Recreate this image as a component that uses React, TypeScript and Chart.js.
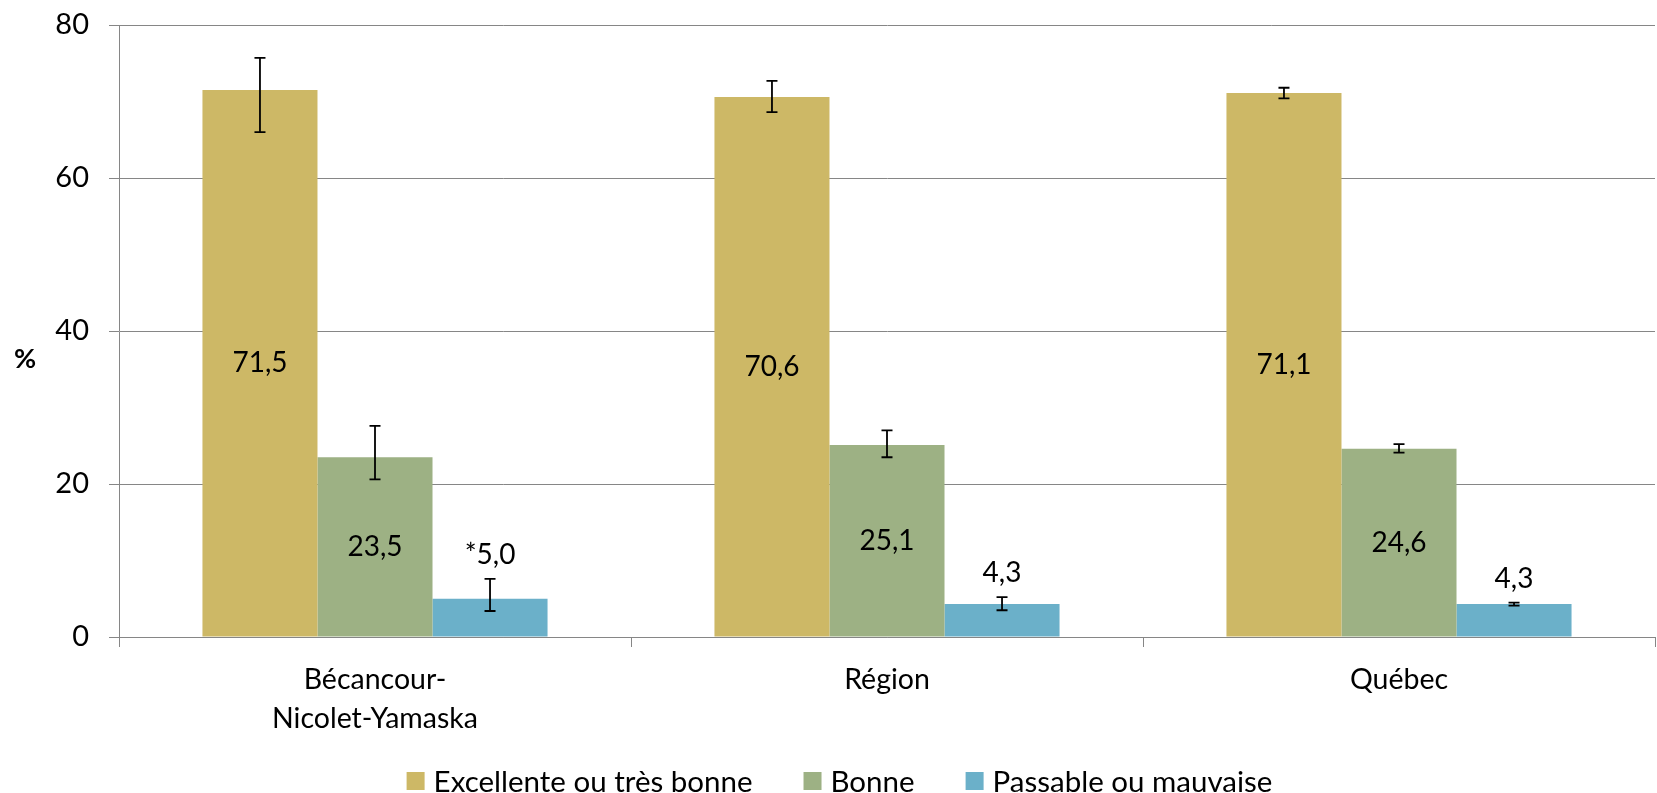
import React, { useEffect, useRef } from "react";
import { Chart, registerables } from "chart.js";

Chart.register(...registerables);

const categories: (string | string[])[] = [["Bécancour-", "Nicolet-Yamaska"], "Région", "Québec"];
const seriesNames = ["Excellente ou très bonne", "Bonne", "Passable ou mauvaise"];
const seriesColors = ["#CDB866", "#9DB184", "#6BB0C9"];

const excellente = [71.5, 70.6, 71.1];
const bonne = [23.5, 25.1, 24.6];
const passable = [5.0, 4.3, 4.3];

const excellenteLow = [66.0, 68.6, 70.4];
const excellenteHigh = [75.7, 72.7, 71.8];
const bonneLow = [20.6, 23.5, 24.1];
const bonneHigh = [27.6, 27.0, 25.2];
const passableLow = [3.4, 3.5, 4.1];
const passableHigh = [7.6, 5.2, 4.5];

const excellenteFlags = ["", "", ""];
const bonneFlags = ["", "", ""];
const passableFlags = ["*", "", ""];

const labelPlacement = ["center", "center", "above"];

const yMin = 0;
const yMax = 80;
const yStep = 20;
const yTitle = "%";

const FONT = "Lato, 'Open Sans', sans-serif";
const GRID = "#868686";

const lows = [excellenteLow, bonneLow, passableLow];
const highs = [excellenteHigh, bonneHigh, passableHigh];
const flags = [excellenteFlags, bonneFlags, passableFlags];

const fmt = (v: number) => v.toFixed(1).replace(".", ",");

const errorBarPlugin = {
  id: "errorBars",
  afterDatasetsDraw(chart: any) {
    const ctx = chart.ctx;
    const y = chart.scales.y;
    ctx.save();
    ctx.strokeStyle = "#000";
    ctx.lineWidth = 1.8;
    chart.data.datasets.forEach((_: any, i: number) => {
      const meta = chart.getDatasetMeta(i);
      meta.data.forEach((el: any, j: number) => {
        const x = el.x;
        const yl = y.getPixelForValue(lows[i][j]);
        const yh = y.getPixelForValue(highs[i][j]);
        const cap = 5.5;
        ctx.beginPath();
        ctx.moveTo(x, yl);
        ctx.lineTo(x, yh);
        ctx.moveTo(x - cap, yl);
        ctx.lineTo(x + cap, yl);
        ctx.moveTo(x - cap, yh);
        ctx.lineTo(x + cap, yh);
        ctx.stroke();
      });
    });
    ctx.restore();
  },
};

const dataLabelPlugin = {
  id: "dataLabels",
  afterDatasetsDraw(chart: any) {
    const ctx = chart.ctx;
    const y = chart.scales.y;
    ctx.save();
    ctx.fillStyle = "#000";
    ctx.font = `28px ${FONT}`;
    ctx.textAlign = "center";
    ctx.textBaseline = "middle";
    chart.data.datasets.forEach((ds: any, i: number) => {
      const meta = chart.getDatasetMeta(i);
      meta.data.forEach((el: any, j: number) => {
        const text = flags[i][j] + fmt(ds.data[j]);
        let ty: number;
        if (labelPlacement[i] === "center") {
          ty = (el.y + el.base) / 2;
        } else {
          ty = y.getPixelForValue(highs[i][j]) - 24;
        }
        ctx.fillText(text, el.x, ty);
      });
    });
    ctx.restore();
  },
};

const legendPlugin = {
  id: "customLegend",
  afterDraw(chart: any) {
    const ctx = chart.ctx;
    ctx.save();
    ctx.font = `29.5px ${FONT}`;
    ctx.textBaseline = "middle";
    ctx.textAlign = "left";
    const box = 18;
    const boxGap = 9;
    const itemGap = 51;
    const widths = chart.data.datasets.map((ds: any) => box + boxGap + ctx.measureText(ds.label).width);
    const total = widths.reduce((a: number, b: number) => a + b, 0) + itemGap * (widths.length - 1);
    let x = chart.width / 2 - total / 2 + 11;
    const cy = chart.height - 12;
    chart.data.datasets.forEach((ds: any, i: number) => {
      ctx.fillStyle = ds.backgroundColor;
      ctx.fillRect(x, cy - box / 2, box, box);
      ctx.fillStyle = "#000";
      ctx.fillText(ds.label, x + box + boxGap, cy + 1);
      x += widths[i] + itemGap;
    });
    ctx.restore();
  },
};

const yTitlePlugin = {
  id: "yTitleText",
  afterDraw(chart: any) {
    const ctx = chart.ctx;
    const a = chart.chartArea;
    ctx.save();
    ctx.font = `bold 27px ${FONT}`;
    ctx.fillStyle = "#000";
    ctx.textAlign = "center";
    ctx.textBaseline = "middle";
    ctx.fillText(yTitle, 25, a.top + (a.bottom - a.top) * 0.546);
    ctx.restore();
  },
};

export default function App() {
  const ref = useRef<HTMLCanvasElement | null>(null);

  useEffect(() => {
    if (!ref.current) return;
    const values = [excellente, bonne, passable];
    const chart = new Chart(ref.current, {
      type: "bar",
      data: {
        labels: categories,
        datasets: seriesNames.map((name, i) => ({
          label: name,
          data: values[i],
          backgroundColor: seriesColors[i],
          borderWidth: 0,
          barPercentage: 1,
          categoryPercentage: 0.674,
        })),
      },
      options: {
        animation: false,
        responsive: true,
        maintainAspectRatio: false,
        layout: { padding: { top: 25, right: 2, bottom: 54, left: 0 } },
        plugins: {
          legend: { display: false },
          tooltip: { enabled: false },
        },
        scales: {
          x: {
            grid: {
              offset: true,
              drawOnChartArea: false,
              drawTicks: true,
              tickLength: 10,
              color: GRID,
            },
            border: { color: GRID, width: 1 },
            ticks: {
              color: "#000",
              font: { family: FONT, size: 28.5, lineHeight: 1.35 },
              padding: 14,
              maxRotation: 0,
              autoSkip: false,
            },
            afterFit: (s: any) => {
              s.height = 102;
              s.paddingLeft = 0;
              s.paddingRight = 0;
            },
          },
          y: {
            min: yMin,
            max: yMax,
            ticks: {
              stepSize: yStep,
              color: "#000",
              font: { family: FONT, size: 29 },
              padding: 20,
            },
            grid: { color: GRID, tickLength: 10 },
            border: { color: GRID, width: 1 },
            afterFit: (s: any) => {
              s.width = 119;
              s.paddingTop = 0;
              s.paddingBottom = 0;
            },
          },
        },
      },
      plugins: [errorBarPlugin, dataLabelPlugin, legendPlugin, yTitlePlugin],
    });
    return () => chart.destroy();
  }, []);

  return (
    <div style={{ position: "absolute", left: 0, top: 0, width: 1657, height: 793, background: "#fff" }}>
      <canvas ref={ref} />
    </div>
  );
}
